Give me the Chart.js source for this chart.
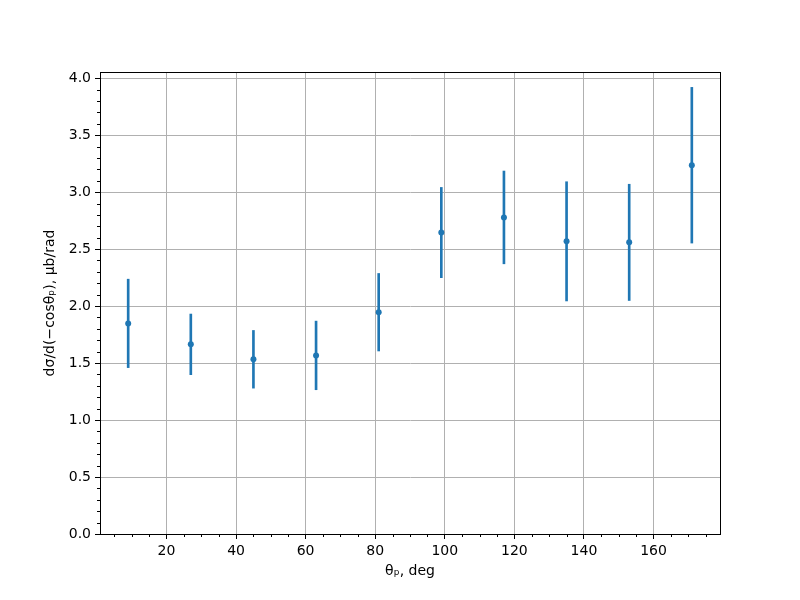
<!DOCTYPE html>
<html>
<head>
<meta charset="utf-8">
<script src="https://cdn.jsdelivr.net/npm/chart.js@4.4.1/dist/chart.umd.min.js"></script>
<style>
  body { margin: 0; background: #fff; }
  #wrap { width: 800px; height: 600px; }
</style>
</head>
<body>
<div id="wrap"><canvas id="chart" width="800" height="600"></canvas></div>
<script>
// data
const theta = [9, 27, 45, 63, 81, 99, 117, 135, 153, 171];
const xsec = [1.848, 1.664, 1.533, 1.567, 1.946, 2.645, 2.778, 2.568, 2.559, 3.236];
const xsecErr = [0.388, 0.266, 0.253, 0.301, 0.340, 0.396, 0.407, 0.523, 0.510, 0.683];

const xLimits = [0.9, 179.1];
const yLimits = [0, 4.054];

const blue = "#1f77b4";
const font = { family: "'DejaVu Sans'", size: 14 };

const points = theta.map((t, i) => ({ x: t, y: xsec[i] }));
const errBars = theta.map((t, i) => ({ x: t, y: [xsec[i] - xsecErr[i], xsec[i] + xsecErr[i]] }));

// frame + minor ticks like matplotlib
const framePlugin = {
  id: "frame",
  afterDraw(chart) {
    const ctx = chart.ctx;
    const a = chart.chartArea;
    const xs = chart.scales.x, ys = chart.scales.y;
    ctx.save();
    ctx.strokeStyle = "#000";
    ctx.lineWidth = 1;
    ctx.beginPath();
    for (let v = 5; v < xLimits[1]; v += 5) {
      if (v % 20 === 0 || v < xLimits[0]) continue;
      const px = Math.round(xs.getPixelForValue(v)) + 0.5;
      ctx.moveTo(px, a.bottom);
      ctx.lineTo(px, a.bottom + 3);
    }
    for (let k = 1; k <= 40; k++) {
      if (k % 5 === 0) continue;
      const py = Math.round(ys.getPixelForValue(k / 10)) + 0.5;
      ctx.moveTo(a.left, py);
      ctx.lineTo(a.left - 3, py);
    }
    ctx.stroke();
    ctx.strokeRect(Math.round(a.left) + 0.5, Math.round(a.top) + 0.5,
      Math.round(a.right - a.left), Math.round(a.bottom - a.top));
    ctx.restore();
  }
};

new Chart(document.getElementById("chart"), {
  type: "scatter",
  data: {
    datasets: [
      {
        type: "scatter",
        data: points,
        backgroundColor: blue,
        borderWidth: 0,
        pointRadius: 3,
        order: 0
      },
      {
        type: "bar",
        data: errBars,
        backgroundColor: blue,
        borderWidth: 0,
        barThickness: 2,
        grouped: false,
        order: 1
      }
    ]
  },
  options: {
    responsive: false,
    animation: false,
    layout: { padding: { top: 72, right: 80, left: 0, bottom: 0 } },
    plugins: {
      legend: { display: false },
      tooltip: { enabled: false }
    },
    scales: {
      x: {
        type: "linear",
        min: xLimits[0],
        max: xLimits[1],
        offset: false,
        afterFit(scale) { scale.height = 66; },
        grid: { color: "#b0b0b0", lineWidth: 1, tickColor: "#000", tickLength: 5, offset: false },
        border: { display: true, color: "#000", width: 1 },
        ticks: { stepSize: 20, includeBounds: false, color: "#000", font: font, padding: 4, maxRotation: 0 },
        title: { display: true, text: "θₚ, deg", color: "#000", font: font, padding: { top: 0, bottom: 20 } }
      },
      y: {
        type: "linear",
        min: yLimits[0],
        max: yLimits[1],
        afterFit(scale) { scale.width = 100; },
        grid: { color: "#b0b0b0", lineWidth: 1, tickColor: "#000", tickLength: 5 },
        border: { display: true, color: "#000", width: 1 },
        ticks: {
          stepSize: 0.5,
          includeBounds: false,
          color: "#000",
          font: font,
          padding: 4,
          callback: v => v.toFixed(1)
        },
        title: { display: true, text: "dσ/d(−cosθₚ), μb/rad", color: "#000", font: font, padding: { top: 42, bottom: 0 } }
      }
    }
  },
  plugins: [framePlugin]
});
</script>
</body>
</html>
